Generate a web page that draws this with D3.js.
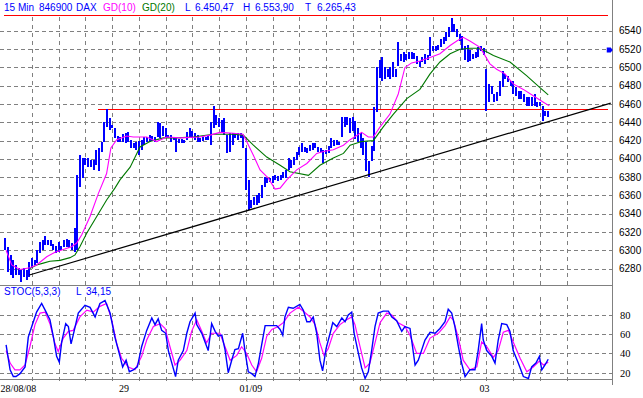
<!DOCTYPE html>
<html>
<head>
<meta charset="utf-8">
<script src="https://cdn.jsdelivr.net/npm/d3@7"></script>
<style>
  body { margin: 0; background: #fff; }
  svg { display: block; }
  text { font-family: "Liberation Sans", Arial, sans-serif; }
</style>
</head>
<body>
<div id="chart"></div>
<script>
// 15 min bars, DAX 28/08/08 - 03/09/08
const highs = [
  6314,6304,6295,6289,6284,6281,6278,6281,6278,6287,
  6292,6289,6300,6309,6311,6316,6311,6311,6307,6305,
  6309,6305,6311,6312,6311,6308,6324,6382,6404,6401,
  6401,6401,6399,6399,6410,6412,6418,6440,6455,6445,
  6437,6434,6425,6424,6427,6428,6429,6421,6417,6418,
  6420,6421,6424,6424,6426,6425,6424,6440,6439,6436,
  6434,6426,6426,6424,6423,6422,6422,6421,6429,6434,
  6431,6428,6426,6423,6424,6424,6425,6440,6458,6448,
  6445,6442,6445,6426,6428,6428,6428,6428,6428,6426,
  6412,6377,6355,6358,6360,6363,6371,6380,6379,6379,
  6381,6382,6381,6382,6386,6388,6401,6399,6402,6407,
  6413,6417,6413,6412,6415,6417,6417,6413,6412,6410,
  6410,6414,6423,6421,6421,6418,6446,6446,6446,6445,
  6446,6441,6434,6428,6423,6418,6398,6414,6457,6500,
  6508,6511,6500,6498,6500,6506,6498,6528,6515,6517,
  6515,6517,6517,6516,6513,6507,6511,6515,6514,6533,
  6523,6523,6525,6531,6533,6539,6544,6554,6548,6542,
  6537,6534,6523,6525,6519,6515,6517,6522,6523,6521,
  6498,6482,6480,6471,6473,6485,6496,6493,6491,6485,
  6485,6479,6474,6474,6471,6468,6468,6468,6471,6462,
  6462,6458,6452,6452
];
const lows = [
  6300,6276,6273,6270,6273,6273,6265,6271,6267,6271,
  6281,6284,6286,6297,6300,6306,6306,6305,6300,6297,
  6298,6300,6304,6304,6302,6300,6298,6300,6369,6379,
  6393,6391,6391,6388,6393,6387,6408,6418,6435,6432,
  6434,6423,6418,6418,6418,6417,6418,6412,6412,6410,
  6404,6410,6415,6418,6418,6420,6418,6424,6423,6425,
  6424,6423,6418,6421,6408,6417,6417,6417,6421,6424,
  6423,6421,6418,6418,6420,6421,6421,6415,6434,6437,
  6435,6428,6426,6406,6407,6415,6423,6421,6423,6412,
  6366,6344,6346,6350,6350,6352,6357,6369,6374,6375,
  6374,6377,6376,6377,6379,6379,6388,6390,6393,6399,
  6404,6408,6408,6406,6409,6410,6412,6408,6408,6395,
  6405,6406,6412,6414,6415,6415,6424,6435,6437,6428,
  6430,6422,6418,6412,6404,6387,6380,6398,6409,6451,
  6488,6485,6487,6490,6487,6490,6490,6502,6507,6506,
  6508,6509,6509,6509,6504,6501,6506,6504,6508,6513,
  6518,6518,6519,6522,6526,6529,6533,6539,6539,6533,
  6529,6519,6508,6506,6507,6509,6510,6511,6518,6514,
  6452,6462,6471,6462,6463,6469,6479,6487,6484,6480,
  6471,6469,6466,6466,6462,6458,6458,6458,6458,6457,
  6458,6441,6447,6446
];

// moving averages as [bar, price]
const gd10 = [
  [0.3,6300],[2.4,6284],[5.5,6279],[9.2,6281],[11.7,6284],[15.5,6293],[18.6,6298],
  [21.7,6301],[24.8,6304],[26.7,6308],[28.6,6317],[31.7,6337],[34.8,6362],[37.9,6384],
  [39.5,6412],[41.7,6421],[45.4,6425],[47.9,6424],[52.9,6424],[56.6,6419],[60.4,6424],
  [65.4,6423],[72.8,6424],[76.6,6426],[80.3,6429],[85.3,6428],[88.9,6427],[90.3,6419],
  [92.8,6404],[95.3,6388],[98.4,6379],[100.9,6367],[102.8,6368],[105.3,6377],[109,6388],
  [112.8,6395],[116.5,6406],[119,6408],[122.7,6410],[126.5,6415],[129,6421],[133.3,6429],
  [135.8,6424],[137.7,6424],[140.2,6435],[143.9,6449],[147,6471],[149.5,6500],[152,6505],
  [155.1,6507],[158.9,6511],[162.6,6515],[166.4,6524],[168.9,6529],[171.3,6533],[173.8,6529],
  [177.6,6522],[181.3,6504],[183.8,6498],[186.9,6493],[190,6482],[193.8,6476],[197.5,6469],
  [201.3,6462],[203.5,6458]
];
const gd20 = [
  [9.2,6280],[11.7,6284],[14.2,6286],[16.7,6288],[20.5,6289],[24.2,6292],[26.1,6295],
  [27.9,6304],[30.5,6319],[34.2,6337],[37.9,6355],[41,6368],[42.9,6377],[46.7,6391],
  [50.4,6413],[54.1,6419],[59.1,6423],[64.1,6423],[70.3,6424],[77.8,6427],[85.3,6427],
  [89,6426],[92.8,6415],[97.8,6402],[102.8,6393],[106.5,6386],[113.4,6382],[117.7,6393],
  [122.7,6401],[126.5,6406],[129,6415],[133.3,6419],[137.7,6420],[141.4,6435],[145.2,6449],
  [150.2,6466],[155.1,6476],[158.9,6493],[162.6,6506],[166.4,6515],[170.1,6520],[173.9,6521],
  [177.6,6521],[182.6,6513],[188.8,6506],[195,6491],[200,6478],[203.1,6470]
];

// stochastic (5,3,3): %K blue, %D magenta, as [bar, value]
const stocK = [
  [0.3,49],[1.1,35],[1.8,23],[3,16],[4,16],[5.5,19],[7.4,26],[8.6,57],[9.9,68],[11.7,83],
  [13.6,92],[14.9,85],[16.7,75],[18,57],[19.2,37],[20.2,31],[21.1,52],[22.6,71],[23.6,68],
  [24.6,50],[25.4,59],[27.3,82],[29.8,90],[31.7,88],[33.6,78],[35.4,92],[37.3,95],[39.2,82],
  [41,57],[42.9,37],[43.9,26],[45.2,33],[46.4,21],[47.9,23],[49.4,26],[51,47],[52.9,64],
  [54.8,77],[56,70],[57.2,76],[58.5,64],[60,61],[61,43],[62.3,30],[63.7,16],[64.7,33],
  [66.6,43],[67.9,61],[69.1,73],[71,82],[71.6,70],[73.5,61],[75.9,43],[77.2,71],[78.5,63],
  [79.7,58],[81,59],[82.2,44],[83.4,20],[84.7,33],[85.9,44],[87.2,45],[88.8,61],[89.7,42],
  [90.9,21],[92.2,19],[93.4,16],[94.7,30],[95.9,49],[97.2,69],[99,69],[101.5,69],[102.8,65],
  [103.8,59],[104.6,78],[105.9,88],[107.7,87],[110.2,91],[111.5,85],[112.8,73],[114,73],
  [115.2,78],[116.5,61],[117.7,33],[118.7,22],[120,45],[121.5,61],[122.5,72],[124,68],
  [125.9,77],[127.1,73],[128.3,80],[129.6,83],[130.5,61],[132.1,40],[133.3,25],[134.6,14],
  [135.8,21],[137.1,44],[138.3,68],[139.5,82],[141.4,84],[143.3,84],[144.6,78],[146.4,74],
  [148.3,63],[149.5,68],[151.4,66],[153.3,28],[154.5,33],[155.1,38],[157,54],[158.9,62],
  [160.8,61],[162.6,66],[164.5,73],[165.7,86],[167,82],[168.2,68],[169.5,47],[170.7,30],
  [172,16],[173.8,23],[175.7,23],[176.9,43],[178.2,71],[178.8,54],[180.1,43],[182,37],
  [183.2,30],[184.4,54],[185.7,71],[187.6,70],[188.8,63],[190,43],[191.9,30],[193.8,16],
  [195.7,14],[196.9,26],[198.5,30],[199.8,37],[200.7,23],[201.9,28],[203.1,34]
];
const stocD = [
  [0.3,43],[1.8,30],[3.6,23],[5.5,23],[7.4,28],[9.2,47],[11.1,70],[13,82],[14.9,83],
  [16.7,71],[18.6,50],[19.8,42],[21.7,56],[23.6,63],[25.4,64],[27.9,78],[30.5,85],[32.9,83],
  [35.4,89],[37.9,92],[39.8,75],[41.7,50],[43.5,35],[46,26],[48.5,23],[51,37],[52.9,54],
  [55.4,68],[57.9,71],[59.8,66],[61.6,47],[63.5,28],[65.4,33],[67.9,43],[69.7,63],[71.6,75],
  [73.5,63],[75.3,51],[77.2,61],[80.3,61],[82.2,47],[84.1,33],[86.6,38],[88.4,47],[90.3,40],
  [92.2,28],[94,21],[95.9,35],[97.8,58],[99.7,65],[102.1,68],[104,72],[106.5,82],[109.6,88],
  [111.5,84],[114,78],[115.9,70],[117.7,51],[119.2,38],[120.8,45],[122.7,61],[125.2,70],
  [127.7,75],[129.6,78],[130.8,70],[132.7,47],[134.6,25],[136.4,30],[138.3,51],[140.2,72],
  [142.7,82],[144.6,80],[147,72],[149.5,68],[151.4,59],[153.9,40],[156.4,40],[158.9,56],
  [162,61],[164.5,69],[166.4,78],[167.6,75],[169.5,56],[171.3,33],[173.8,23],[176.4,26],
  [178.2,52],[180.1,47],[182.6,36],[184.4,43],[186.3,62],[188.2,64],[190,52],[192.6,35],
  [195.1,21],[197.5,26],[199.8,32],[201.3,28],[203.1,31]
];

// trend line and resistance line, [bar, price]
const trendLine = [[9, 6273], [226.5, 6461]];
const resistance = [[34.5, 6454.5], [225.6, 6454.5]];
const markerPrice = 6519;

// axes
const priceTicks = [6280, 6300, 6320, 6340, 6360, 6380, 6400, 6420, 6440, 6460, 6480, 6500, 6520, 6540];
const stocTicks = [20, 40, 60, 80];
const gridBars = [10, 20, 30, 40, 50, 60, 70, 80, 90, 100, 110, 120, 130, 140, 150, 160, 170, 180, 190, 200, 210];
const dayTicks = [4.9, 44.4, 91.9, 134.4, 179.3];
const dayLabels = ["28/08/08", "29", "01/09", "02", "03"];

const W = 643, H = 398;
const svg = d3.select("#chart").append("svg")
    .attr("width", W)
    .attr("height", H);

const x = d3.scaleLinear().domain([0, 227]).range([5.3, 612.1]);
const y = d3.scaleLinear().domain([6280, 6540]).range([268.6, 30.9]);
const ys = d3.scaleLinear().domain([20, 80]).range([372.7, 315]);

const GRID = "#808080", BLUE = "#0000ff", MAG = "#ff00ff", GREEN = "#007800";

// header
const header = svg.append("g").style("font-size", "10px");
[
  ["15 Min", 4, BLUE], ["846900", 39, BLUE], ["DAX", 76, BLUE],
  ["GD(10)", 103, MAG], ["GD(20)", 142, GREEN],
  ["L", 185, BLUE], ["6.450,47", 195, BLUE],
  ["H", 243, BLUE], ["6.553,90", 255, BLUE],
  ["T", 305, BLUE], ["6.265,43", 317, BLUE]
].forEach(function(t) {
  header.append("text").attr("x", t[1]).attr("y", 10.5).attr("fill", t[2]).text(t[0]);
});
svg.append("line")
    .attr("x1", 4).attr("x2", 608).attr("y1", 15.5).attr("y2", 15.5)
    .attr("stroke", "#ff0000").attr("stroke-width", 1);

// grid - main panel
const grid = svg.append("g").attr("shape-rendering", "crispEdges");
grid.selectAll(".hg").data(priceTicks).enter().append("line")
    .attr("x1", 0).attr("x2", 616)
    .attr("y1", d => Math.round(y(d)) + 0.5).attr("y2", d => Math.round(y(d)) + 0.5)
    .attr("stroke", GRID).attr("stroke-dasharray", "4,3");
grid.selectAll(".vg").data(gridBars).enter().append("line")
    .attr("x1", d => Math.round(x(d)) + 0.5).attr("x2", d => Math.round(x(d)) + 0.5)
    .attr("y1", 17).attr("y2", 285)
    .attr("stroke", GRID).attr("stroke-dasharray", "4,4");

// grid - stochastic panel
grid.selectAll(".hs").data(stocTicks).enter().append("line")
    .attr("x1", 0).attr("x2", 616)
    .attr("y1", d => Math.round(ys(d)) + 0.5).attr("y2", d => Math.round(ys(d)) + 0.5)
    .attr("stroke", GRID).attr("stroke-dasharray", "4,3");
grid.selectAll(".vs").data(gridBars).enter().append("line")
    .attr("x1", d => Math.round(x(d)) + 0.5).attr("x2", d => Math.round(x(d)) + 0.5)
    .attr("y1", 297).attr("y2", 385)
    .attr("stroke", GRID).attr("stroke-dasharray", "4,4");

// frame lines
grid.append("line").attr("x1", 612.5).attr("x2", 612.5).attr("y1", 0).attr("y2", 385)
    .attr("stroke", GRID);
grid.append("line").attr("x1", 0).attr("x2", 612).attr("y1", 285.5).attr("y2", 285.5)
    .attr("stroke", GRID);
grid.append("line").attr("x1", 0).attr("x2", 612).attr("y1", 379.5).attr("y2", 379.5)
    .attr("stroke", GRID);

// right axis labels
svg.append("g").selectAll("text").data(priceTicks).enter().append("text")
    .attr("x", 619).attr("y", d => y(d) + 3.5)
    .style("font-size", "10px").attr("fill", "#000")
    .text(d => d);
svg.append("g").selectAll("text").data(stocTicks).enter().append("text")
    .attr("x", 620).attr("y", d => ys(d) + 4)
    .style("font-size", "10.5px").style("font-family", "'Liberation Serif', serif")
    .attr("fill", "#000")
    .text(d => d);

// day labels
svg.append("g").selectAll("text").data(dayTicks).enter().append("text")
    .attr("x", d => x(d)).attr("y", 392)
    .attr("text-anchor", "middle")
    .style("font-size", "10px").style("font-family", "'Liberation Serif', serif")
    .text((d, i) => dayLabels[i]);

// resistance (red) and trend line
const lineP = d3.line().x(d => x(d[0])).y(d => y(d[1]));
svg.append("path").datum(resistance).attr("d", lineP)
    .attr("fill", "none").attr("stroke", "#ff0000").attr("stroke-width", 1)
    .attr("shape-rendering", "crispEdges");

// price bars
svg.append("g").attr("shape-rendering", "crispEdges")
    .selectAll("rect").data(highs).enter().append("rect")
    .attr("x", (d, i) => Math.round(x(i)) - 1)
    .attr("y", d => y(d))
    .attr("width", 2)
    .attr("height", (d, i) => Math.max(1.5, y(lows[i]) - y(d)))
    .attr("fill", BLUE);

svg.append("path").datum(trendLine).attr("d", lineP)
    .attr("fill", "none").attr("stroke", "#000").attr("stroke-width", 1.2);

// moving averages
svg.append("path").datum(gd20).attr("d", lineP)
    .attr("fill", "none").attr("stroke", GREEN).attr("stroke-width", 1.1);
svg.append("path").datum(gd10).attr("d", lineP)
    .attr("fill", "none").attr("stroke", MAG).attr("stroke-width", 1.1);

// marker on the right axis
svg.append("path")
    .attr("d", `M${x(225)},${y(markerPrice) - 2.5}h4l2,2.5l-2,2.5h-4z`)
    .attr("fill", BLUE);

// stochastic
const lineS = d3.line().x(d => x(d[0])).y(d => ys(d[1]));
svg.append("path").datum(stocD).attr("d", lineS)
    .attr("fill", "none").attr("stroke", MAG).attr("stroke-width", 1.2);
svg.append("path").datum(stocK).attr("d", lineS)
    .attr("fill", "none").attr("stroke", BLUE).attr("stroke-width", 1.4);

const st = svg.append("g").style("font-size", "10px").attr("fill", BLUE);
st.append("text").attr("x", 4).attr("y", 295).text("STOC(5,3,3)");
st.append("text").attr("x", 76).attr("y", 295).text("L");
st.append("text").attr("x", 86).attr("y", 295).text("34,15");
</script>
</body>
</html>
